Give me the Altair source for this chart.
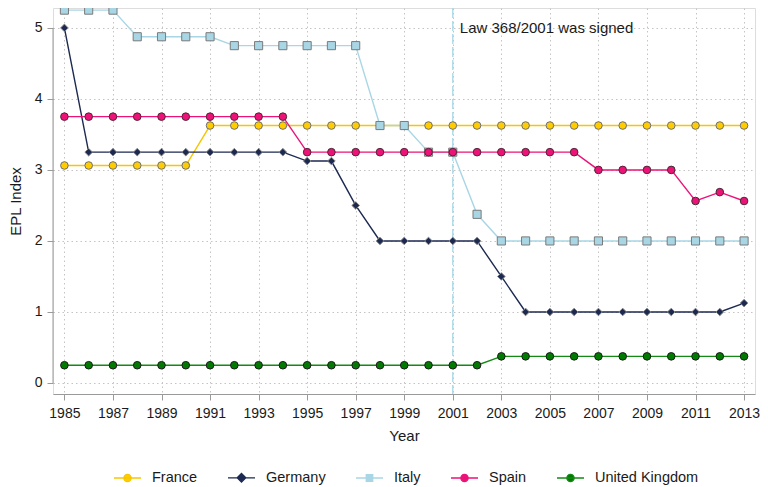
import altair as alt
import pandas as pd

years = [1985, 1986, 1987, 1988, 1989, 1990, 1991, 1992, 1993, 1994,
         1995, 1996, 1997, 1998, 1999, 2000, 2001, 2002, 2003, 2004,
         2005, 2006, 2007, 2008, 2009, 2010, 2011, 2012, 2013]
countries = ["France", "Germany", "Italy", "Spain", "United Kingdom"]

france = [3.0625, 3.0625, 3.0625, 3.0625, 3.0625, 3.0625, 3.625, 3.625, 3.625, 3.625,
          3.625, 3.625, 3.625, 3.625, 3.625, 3.625, 3.625, 3.625, 3.625, 3.625,
          3.625, 3.625, 3.625, 3.625, 3.625, 3.625, 3.625, 3.625, 3.625]
germany = [5.0, 3.25, 3.25, 3.25, 3.25, 3.25, 3.25, 3.25, 3.25, 3.25,
           3.125, 3.125, 2.5, 2.0, 2.0, 2.0, 2.0, 2.0, 1.5, 1.0,
           1.0, 1.0, 1.0, 1.0, 1.0, 1.0, 1.0, 1.0, 1.125]
italy = [5.25, 5.25, 5.25, 4.875, 4.875, 4.875, 4.875, 4.75, 4.75, 4.75,
         4.75, 4.75, 4.75, 3.625, 3.625, 3.25, 3.25, 2.375, 2.0, 2.0,
         2.0, 2.0, 2.0, 2.0, 2.0, 2.0, 2.0, 2.0, 2.0]
spain = [3.75, 3.75, 3.75, 3.75, 3.75, 3.75, 3.75, 3.75, 3.75, 3.75,
         3.25, 3.25, 3.25, 3.25, 3.25, 3.25, 3.25, 3.25, 3.25, 3.25,
         3.25, 3.25, 3.0, 3.0, 3.0, 3.0, 2.5625, 2.6875, 2.5625]
uk = [0.25, 0.25, 0.25, 0.25, 0.25, 0.25, 0.25, 0.25, 0.25, 0.25,
      0.25, 0.25, 0.25, 0.25, 0.25, 0.25, 0.25, 0.25, 0.375, 0.375,
      0.375, 0.375, 0.375, 0.375, 0.375, 0.375, 0.375, 0.375, 0.375]
series = [france, germany, italy, spain, uk]

x_ticks = [1985, 1987, 1989, 1991, 1993, 1995, 1997, 1999, 2001, 2003, 2005, 2007, 2009, 2011, 2013]
y_ticks = [0, 1, 2, 3, 4, 5]
law_year = [2001]
law_label = ["Law 368/2001 was signed"]
law_y = [5.0]

line_colors = ["#F7C600", "#1C2951", "#A9D6E5", "#EC1277", "#138A13"]
fill_colors = ["#FFCC00", "#1C2951", "#A9D6E5", "#EC1277", "#007A00"]
marker_strokes = ["#6E6E6E", "#8A8A8A", "#7A7A7A", "#4A2A35", "#1A1A1A"]
marker_shapes = ["circle", "diamond", "square", "circle", "circle"]
marker_sizes = [58, 58, 66, 58, 58]

legend_paths = [
    "M-1,0H1M0.27,0A0.27,0.27 0 1,1 -0.27,0A0.27,0.27 0 1,1 0.27,0Z",
    "M-1,0H1M0,-0.32L0.32,0L0,0.32L-0.32,0Z",
    "M-1,0H1M-0.24,-0.24H0.24V0.24H-0.24Z",
    "M-1,0H1M0.27,0A0.27,0.27 0 1,1 -0.27,0A0.27,0.27 0 1,1 0.27,0Z",
    "M-1,0H1M0.27,0A0.27,0.27 0 1,1 -0.27,0A0.27,0.27 0 1,1 0.27,0Z",
]

rows = []
for c, vals in zip(countries, series):
    for yr, v in zip(years, vals):
        rows.append({"Year": yr, "EPL": v, "Country": c})
df = pd.DataFrame(rows)

FONT = "Liberation Sans"
W, H = 702, 386
xscale = alt.Scale(domain=[1984.53, 2013.45], nice=False, zero=False)
yscale = alt.Scale(domain=[-0.155, 5.28], nice=False, zero=False)

x_axis = alt.Axis(values=x_ticks, format="d", title="Year", grid=True,
                  gridDash=[1.5, 3], gridColor="#c4c4c4", gridWidth=1,
                  tickSize=6, tickColor="#9a9a9a", domainColor="#9a9a9a",
                  labelPadding=6, titlePadding=8, labelFontSize=14,
                  titleFontSize=15, titleFontWeight="normal",
                  labelColor="#1a1a1a", titleColor="#1a1a1a",
                  labelFont=FONT, titleFont=FONT)
y_axis = alt.Axis(values=y_ticks, format="d", title="EPL Index", grid=True,
                  gridDash=[1.5, 3], gridColor="#c4c4c4", gridWidth=1,
                  tickSize=6, tickColor="#9a9a9a", domain=False,
                  labelPadding=5, titlePadding=11, labelFontSize=14,
                  titleFontSize=15, titleFontWeight="normal",
                  labelColor="#1a1a1a", titleColor="#1a1a1a",
                  labelFont=FONT, titleFont=FONT)


def X(field="Year"):
    return alt.X(f"{field}:Q", scale=xscale, axis=x_axis, title="Year")


def Y(field="EPL"):
    return alt.Y(f"{field}:Q", scale=yscale, axis=y_axis, title="EPL Index")


base = alt.Chart(df)

yaxis_line = alt.Chart(pd.DataFrame({"EPL": [y_ticks[0]], "hi": [y_ticks[-1]]})).mark_rule(
    color="#9a9a9a", strokeWidth=1
).encode(
    x=alt.value(0),
    y=Y("EPL"),
    y2="hi:Q",
)

vline = alt.Chart(pd.DataFrame({"Year": law_year})).mark_rule(
    color="#A9D6E5", strokeDash=[10, 3], strokeWidth=1.3
).encode(x=X())

law_text = alt.Chart(pd.DataFrame({"Year": law_year, "EPL": law_y, "label": law_label})).mark_text(
    align="left", baseline="middle", dx=7, fontSize=15, font=FONT, color="#1a1a1a"
).encode(
    x=X(),
    y=Y(),
    text="label:N",
)

layers = [yaxis_line, vline, law_text]
for i, c in enumerate(countries):
    sub = base.transform_filter(alt.FieldEqualPredicate(field="Country", equal=c))
    ln = sub.mark_line(strokeWidth=1.4, color=line_colors[i]).encode(x=X(), y=Y())
    pt = sub.mark_point(filled=True, shape=marker_shapes[i], size=marker_sizes[i],
                        fill=fill_colors[i], stroke=marker_strokes[i],
                        strokeWidth=1, opacity=1).encode(x=X(), y=Y())
    layers += [ln, pt]

leg = alt.Legend(title=None, orient="none", direction="horizontal",
                 legendX=60, legendY=455, symbolSize=729, symbolStrokeWidth=1.3,
                 labelFontSize=14.5, labelFont=FONT, labelColor="#1a1a1a",
                 labelOffset=10, columnPadding=27, padding=0, symbolOpacity=1)

legend_layer = base.transform_filter("datum.Year < 0").mark_point(filled=True, opacity=1).encode(
    x=X(),
    y=Y(),
    shape=alt.Shape("Country:N", scale=alt.Scale(domain=countries, range=legend_paths), legend=leg),
    fill=alt.Fill("Country:N", scale=alt.Scale(domain=countries, range=fill_colors), legend=leg),
    stroke=alt.Stroke("Country:N", scale=alt.Scale(domain=countries, range=line_colors), legend=leg),
)
layers.append(legend_layer)

chart = alt.layer(*layers).properties(
    width=W, height=H,
    autosize=alt.AutoSizeParams(type="none"),
    padding={"left": 45, "top": 0, "right": 5, "bottom": 93},
).configure_view(strokeWidth=0).configure_axis(
    labelFontSize=14, titleFont=FONT, labelFont=FONT,
    titleFontWeight="normal"
).configure(font=FONT, background="white")

chart.save("out.html", embed_options={"renderer": "svg", "actions": False})
